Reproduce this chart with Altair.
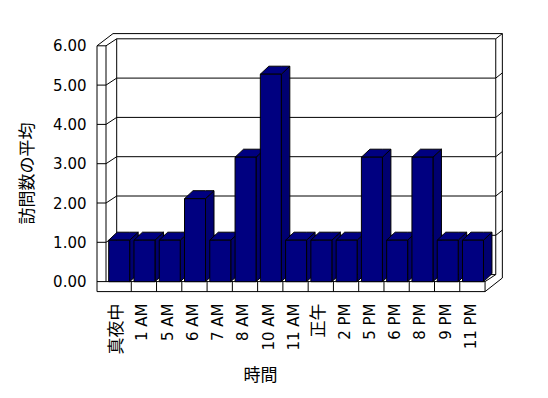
import json
import altair as alt
import pandas as pd

# ---------------- data ----------------
categories = ["真夜中", "1 AM", "5 AM", "6 AM", "7 AM", "8 AM", "10 AM", "11 AM",
              "正午", "2 PM", "5 PM", "6 PM", "8 PM", "9 PM", "11 PM"]
values = [1, 1, 1, 2, 1, 3, 5, 1, 1, 1, 3, 1, 3, 1, 1]
y_ticks = [0, 1, 2, 3, 4, 5, 6]

# ---------------- layout (pixels) ----------------
N = len(categories)
YM = max(y_ticks)
PL, PT, W, H = 95, 30, 410, 262
FRONT_X0 = 106.0      # px where category 0 starts on the front plane
PITCH = 25.27         # px per category
F0, FS = 281.6, 39.3  # frame axis: px of 0, px per unit
B0, BS = 281.7, 41.5  # bars: px of 0, px per unit (mid-depth)

WALL_T, FLOOR_T = 9.0, 10.0
DX, DY = 10.7, 7.0          # back-wall depth offset
OX, OY = 6.6, 5.2           # outer shell offset
BAR_L, BAR_W = 2.7, 21.0    # bar front offset / width in px
BDX, BDY = 8.5, 8.0         # bar depth offset in px

x_dom = [(PL - FRONT_X0) / PITCH, (PL + W - FRONT_X0) / PITCH]
fy_dom = [(F0 - (PT + H)) / FS, (F0 - PT) / FS]
by_dom = [(B0 - (PT + H)) / BS, (B0 - PT) / BS]


def ux(u, dpx=0.0):
    return u + dpx / PITCH


def fy(f, dpx=0.0):
    return f + dpx / FS


segs = []


def seg(x1, y1, x2, y2):
    segs.append({"x": x1, "y": y1, "x2": x2, "y2": y2})


# left wall slab
seg(ux(0, -WALL_T), fy(YM), ux(0, -WALL_T), fy(0, -FLOOR_T))
seg(ux(0), fy(YM), ux(0), fy(0))
seg(ux(0, -WALL_T), fy(YM), ux(0), fy(YM))
seg(ux(0, -WALL_T), fy(YM), ux(0, DX - 3.7), fy(YM, DY + OY))
seg(ux(0), fy(YM), ux(0, DX), fy(YM, DY))
# outer top & right
seg(ux(0, DX - 3.7), fy(YM, DY + OY), ux(N, DX + OX), fy(YM, DY + OY))
seg(ux(N, DX), fy(YM, DY), ux(N, DX + OX), fy(YM, DY + OY))
seg(ux(N, DX + OX), fy(YM, DY + OY), ux(N, DX + OX), fy(0, DY - 3.4))
# back wall edges
seg(ux(0, DX), fy(YM, DY), ux(0, DX), fy(0, DY))
seg(ux(N, DX), fy(YM, DY), ux(N, DX), fy(0, DY))
# gridlines on back wall
for g in y_ticks:
    seg(ux(0, DX), fy(g, DY), ux(N, DX), fy(g, DY))
# ticks on side walls
for g in y_ticks[1:-1]:
    seg(ux(0, -WALL_T), fy(g), ux(0), fy(g))
    seg(ux(0), fy(g), ux(0, DX), fy(g, DY))
    seg(ux(N, DX), fy(g, DY), ux(N, DX + OX), fy(g, DY + OY))
# floor slab
seg(ux(0, -WALL_T), fy(0), ux(N), fy(0))
seg(ux(0, -WALL_T), fy(0, -FLOOR_T), ux(N), fy(0, -FLOOR_T))
seg(ux(N), fy(0), ux(N), fy(0, -FLOOR_T))
for i in range(1, N):
    seg(ux(i), fy(0), ux(i), fy(0, -FLOOR_T))
seg(ux(N), fy(0), ux(N, DX), fy(0, DY))
seg(ux(N), fy(0, -FLOOR_T), ux(N, DX + OX), fy(0, DY - 3.4))

seg_df = pd.DataFrame(segs)

# bars
d_u = BDX / PITCH
e_v = BDY / BS
front_rows, top_rows, side_rows = [], [], []
for i, (c, v) in enumerate(zip(categories, values)):
    a = ux(i, BAR_L)
    b = ux(i, BAR_L + BAR_W)
    front_rows.append({"bar": i, "cat": c, "x": a, "x2": b, "y": 0, "y2": v})
    top_rows += [
        {"bar": i, "x": a, "y": v, "y2": v},
        {"bar": i, "x": a + d_u, "y": v, "y2": v + e_v},
        {"bar": i, "x": b, "y": v, "y2": v + e_v},
        {"bar": i, "x": b + d_u, "y": v + e_v, "y2": v + e_v},
    ]
    side_rows += [
        {"bar": i, "x": b, "y": 0, "y2": v},
        {"bar": i, "x": b + d_u, "y": e_v, "y2": v + e_v},
    ]
front_df = pd.DataFrame(front_rows)
top_df = pd.DataFrame(top_rows)
side_df = pd.DataFrame(side_rows)

FONT = "DejaVu Sans, Noto Sans CJK JP"
NAVY = "#000080"

xscale = alt.Scale(domain=x_dom, zero=False, nice=False)
fscale = alt.Scale(domain=fy_dom, zero=False, nice=False)
bscale = alt.Scale(domain=by_dom, zero=False, nice=False)

label_expr = json.dumps(categories, ensure_ascii=False) + "[round(datum.value - 0.5)]"
cjk_test = " || ".join(
    f"datum.value == {i + 0.5}" for i, c in enumerate(categories) if not c.isascii()
)

x_axis = alt.Axis(
    values=[i + 0.5 for i in range(N)],
    labelExpr=label_expr,
    labelAngle=270, labelAlign="right", labelBaseline="middle",
    labelPadding=11, labelOffset=-2, labelOverlap=False, labelBound=False,
    labelFlush=False,
    labelFont=FONT, labelColor="black",
    labelFontSize={"condition": {"test": cjk_test, "value": 17}, "value": 15},
    ticks=False, domain=False, grid=False,
    title="時間", titleFont=FONT, titleFontSize=17, titleFontWeight="normal",
    titleColor="black", titleX=165, titleY=83, titleAlign="center",
    titleBaseline="middle", titleAngle=0,
)
y_axis = alt.Axis(
    values=y_ticks, format=".2f",
    labelFont=FONT, labelFontSize=15, labelColor="black", labelPadding=9,
    ticks=False, domain=False, grid=False,
    title="訪問数の平均", titleFont=FONT, titleFontSize=17, titleFontWeight="normal",
    titleColor="black", titleX=-68, titleY=143, titleAlign="center",
    titleBaseline="middle", titleAngle=270,
)

frame = alt.Chart(seg_df).mark_rule(color="black", strokeWidth=1).encode(
    x=alt.X("x:Q", scale=xscale, axis=x_axis),
    x2="x2:Q",
    y=alt.Y("y:Q", scale=fscale, axis=y_axis),
    y2="y2:Q",
)

sides = alt.Chart(side_df).mark_area(
    orient="vertical", fill="#000070", stroke="black", strokeWidth=1
).encode(
    x=alt.X("x:Q", scale=xscale, axis=x_axis),
    y=alt.Y("y:Q", scale=bscale, axis=None),
    y2="y2:Q",
    detail="bar:N",
)
tops = alt.Chart(top_df).mark_area(
    orient="vertical", fill=NAVY, stroke="black", strokeWidth=1
).encode(
    x=alt.X("x:Q", scale=xscale, axis=x_axis),
    y=alt.Y("y:Q", scale=bscale, axis=None),
    y2="y2:Q",
    detail="bar:N",
)
fronts = alt.Chart(front_df).mark_rect(
    fill=NAVY, stroke="black", strokeWidth=1
).encode(
    x=alt.X("x:Q", scale=xscale, axis=x_axis),
    x2="x2:Q",
    y=alt.Y("y:Q", scale=bscale, axis=None),
    y2="y2:Q",
)

bars = alt.layer(sides, tops, fronts)

chart = (
    alt.layer(frame, bars)
    .resolve_scale(y="independent")
    .properties(
        width=W, height=H,
        padding={"left": PL, "top": PT, "right": 548 - PL - W, "bottom": 398 - PT - H},
        autosize=alt.AutoSizeParams(type="none"),
        background="white",
    )
    .configure_view(stroke=None)
)

chart.save("out.html", embed_options={"renderer": "svg", "actions": False})
